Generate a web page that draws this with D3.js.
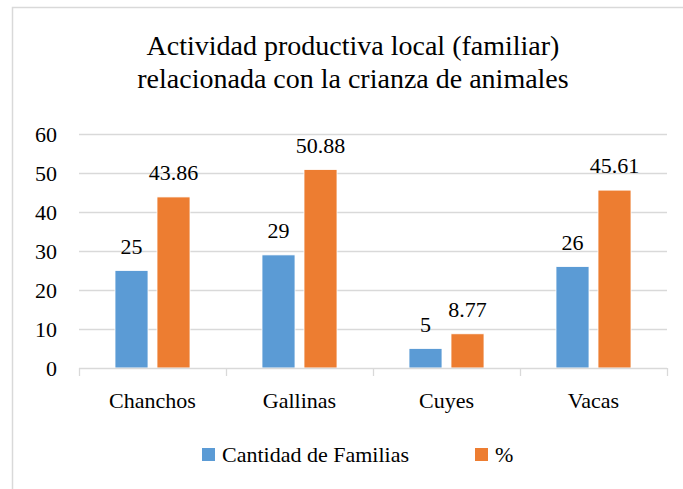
<!DOCTYPE html>
<html>
<head>
<meta charset="utf-8">
<script src="https://cdn.jsdelivr.net/npm/d3@7"></script>
<style>
  body { margin: 0; background: #fff; }
  svg { display: block; }
</style>
</head>
<body>
<svg width="683" height="489" font-family="Liberation Serif"></svg>
<script>
const categories = ['Chanchos', 'Gallinas', 'Cuyes', 'Vacas']
const familias = [25, 29, 5, 26]
const porcentaje = [43.86, 50.88, 8.77, 45.61]
const seriesNames = ['Cantidad de Familias', '%']
const yTicks = [0, 10, 20, 30, 40, 50, 60]

const colors = ['#5B9BD5', '#ED7D31']
const serif = 'Liberation Serif'

let svg = d3.select('svg')

// outer frame (runs off the right/bottom edge like the source)
svg.append('rect')
  .attr('x', 12.5).attr('y', 7.5)
  .attr('width', 700).attr('height', 500)
  .attr('fill', 'none')
  .attr('stroke', '#d9d9d9')
  .attr('stroke-width', 1.5)

let title = svg.append('text')
  .attr('text-anchor', 'middle')
  .attr('font-family', serif)
  .attr('font-size', 28)
  .attr('fill', '#000')
title.append('tspan').attr('x', 353).attr('y', 55).text('Actividad productiva local (familiar)')
title.append('tspan').attr('x', 353).attr('y', 88).text('relacionada con la crianza de animales')

let plotLeft = 79, plotRight = 667, plotTop = 134, plotBottom = 368

let x = d3.scaleBand().domain(categories).range([plotLeft, plotRight])
let y = d3.scaleLinear().domain([0, 60]).range([plotBottom, plotTop])

let data = categories.map((c, i) => ({ cat: c, vals: [familias[i], porcentaje[i]] }))

// gridlines
svg.append('g')
  .selectAll('line')
  .data(yTicks.filter(d => d > 0))
  .enter().append('line')
  .attr('x1', plotLeft).attr('x2', plotRight)
  .attr('y1', d => Math.round(y(d)) + 0.5)
  .attr('y2', d => Math.round(y(d)) + 0.5)
  .attr('stroke', '#d9d9d9')
  .attr('stroke-width', 1.3)

// y labels
svg.append('g')
  .selectAll('text')
  .data(yTicks)
  .enter().append('text')
  .attr('x', 57)
  .attr('y', d => y(d) + 8)
  .attr('text-anchor', 'end')
  .attr('font-family', serif)
  .attr('font-size', 22)
  .text(d => d)

let barW = 33, gap = 9
let inner = d3.scaleBand().domain([0, 1]).range([0, barW * 2 + gap]).paddingInner(gap / (barW + gap))
let off = (x.bandwidth() - (barW * 2 + gap)) / 2

let groups = svg.append('g')
  .selectAll('g')
  .data(data)
  .enter().append('g')
  .attr('transform', d => `translate(${x(d.cat) + off},0)`)

groups.selectAll('rect')
  .data(d => d.vals)
  .enter().append('rect')
  .attr('x', (d, i) => inner(i))
  .attr('y', d => y(d))
  .attr('width', inner.bandwidth())
  .attr('height', d => plotBottom - y(d))
  .attr('fill', (d, i) => colors[i])
  .attr('stroke', '#fff')
  .attr('stroke-width', 0.8)

groups.selectAll('text')
  .data(d => d.vals)
  .enter().append('text')
  .attr('x', (d, i) => inner(i) + inner.bandwidth() / 2)
  .attr('y', d => y(d) - 17)
  .attr('text-anchor', 'middle')
  .attr('font-family', serif)
  .attr('font-size', 22)
  .text(d => d)

// baseline axis + tick marks between categories
let axis = svg.append('g')
axis.append('line')
  .attr('x1', plotLeft).attr('x2', plotRight)
  .attr('y1', plotBottom + 0.5).attr('y2', plotBottom + 0.5)
  .attr('stroke', '#d9d9d9').attr('stroke-width', 1.3)
axis.selectAll('.tick')
  .data(categories.map(c => x(c)).concat([plotRight]))
  .enter().append('line')
  .attr('x1', d => Math.round(d) + 0.5).attr('x2', d => Math.round(d) + 0.5)
  .attr('y1', plotBottom).attr('y2', plotBottom + 8)
  .attr('stroke', '#d9d9d9').attr('stroke-width', 1.3)

axis.selectAll('text')
  .data(categories)
  .enter().append('text')
  .attr('x', d => x(d) + x.bandwidth() / 2)
  .attr('y', 408)
  .attr('text-anchor', 'middle')
  .attr('font-family', serif)
  .attr('font-size', 22)
  .text(d => d)

// legend
let legendX = [202, 475]
let legend = svg.append('g')
  .selectAll('g')
  .data(seriesNames)
  .enter().append('g')
  .attr('transform', (d, i) => `translate(${legendX[i]},448)`)
legend.append('rect')
  .attr('width', 13).attr('height', 13)
  .attr('fill', (d, i) => colors[i])
legend.append('text')
  .attr('x', 20).attr('y', 14)
  .attr('font-family', serif)
  .attr('font-size', 22)
  .text(d => d)
</script>
</body>
</html>
